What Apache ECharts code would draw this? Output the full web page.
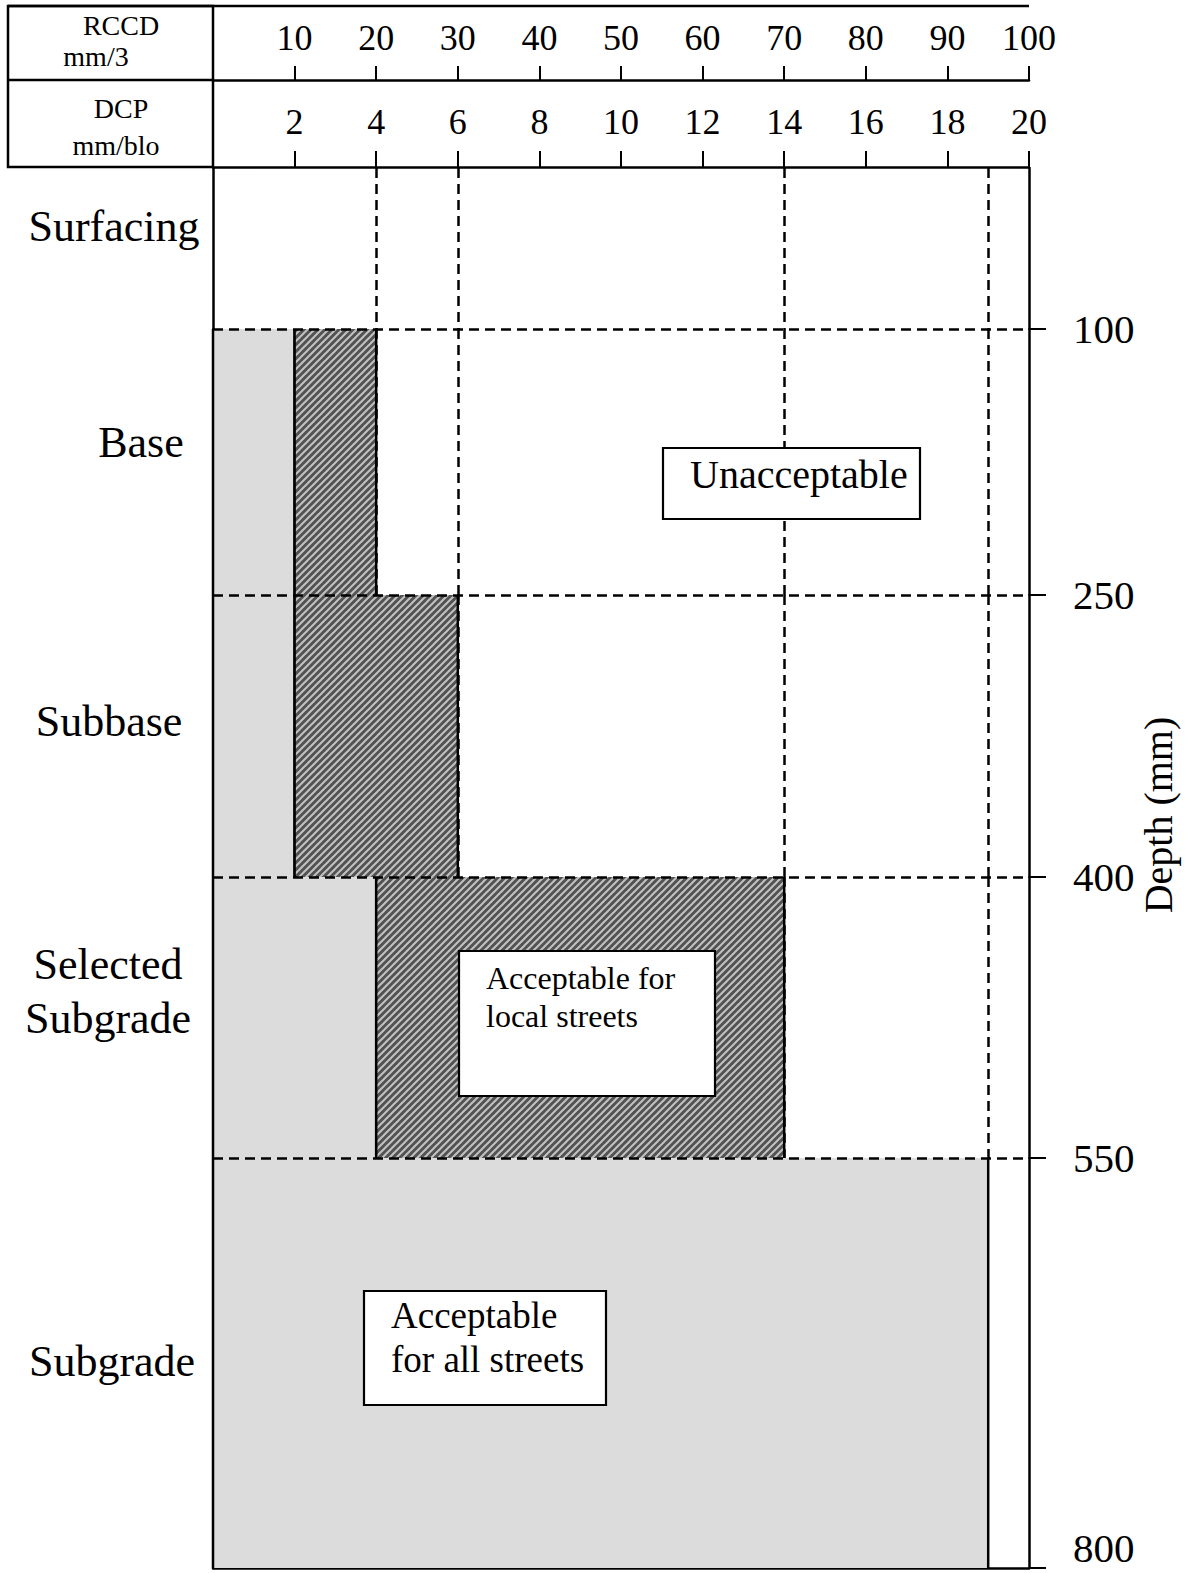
<!DOCTYPE html>
<html>
<head>
<meta charset="utf-8">
<script src="https://cdn.jsdelivr.net/npm/echarts@6/dist/echarts.min.js"></script>
<style>
html, body { margin: 0; padding: 0; background: #fff; }
#chart { width: 1187px; height: 1573px; }
</style>
</head>
<body>
<div id="chart"></div>
<script>
// pavement layers, depth (mm)
const layerNames = ['Surfacing', 'Base', 'Subbase', 'Selected\nSubgrade', 'Subgrade']
const layerTop = [0, 100, 250, 400, 550]
const layerBottom = [100, 250, 400, 550, 800]
// DCP limits (mm/blow) per layer
const allStreetsMax = [null, 2, 2, 4, 19]
const localStreetsMax = [null, 4, 6, 14, null]
// dashed guide columns (DCP)
const guideDcp = [4, 6, 14, 19]
// header scales
const rccdMax = 100
const rccdStep = 10
const dcpMax = 20
const dcpStep = 2

const FONT = "'Liberation Serif', 'DejaVu Serif', serif"
const BLACK = '#000'
// pixel rows of the layer boundaries (layout only)
const layerPx = [168, 329, 595, 877, 1158, 1568]
const plotLeft = 213
const plotWidth = 816

// hatch tile for the "local streets" zone
const T = 7
const tile = document.createElement('canvas')
tile.width = T
tile.height = T
const ctx = tile.getContext('2d')
ctx.fillStyle = '#525252'
ctx.fillRect(0, 0, T, T)
ctx.strokeStyle = '#c2c2c2'
ctx.lineWidth = 2
;[[-1, 1, 1, -1], [0, T, T, 0], [T - 1, T + 1, T + 1, T - 1]].forEach(function (s) {
  ctx.beginPath()
  ctx.moveTo(s[0], s[1])
  ctx.lineTo(s[2], s[3])
  ctx.stroke()
})
const hatchPattern = { image: tile, repeat: 'repeat' }

function renderRegion (params, api) {
  const a = api.coord([api.value(0), api.value(2)])
  const b = api.coord([api.value(1), api.value(3)])
  const edge = { stroke: BLACK, lineWidth: 2.5 }
  return {
    type: 'group',
    children: [
      {
        type: 'rect',
        shape: { x: a[0], y: a[1], width: b[0] - a[0], height: b[1] - a[1] },
        style: { fill: api.value(4) === 1 ? hatchPattern : '#dcdcdc' }
      },
      { type: 'line', shape: { x1: a[0], y1: a[1], x2: a[0], y2: b[1] }, style: edge },
      { type: 'line', shape: { x1: b[0], y1: a[1], x2: b[0], y2: b[1] }, style: edge }
    ]
  }
}

const grids = []
const xAxes = []
const yAxes = []
const series = []
const axisLine = { show: true, onZero: false, lineStyle: { color: BLACK, width: 2.5 } }

layerNames.forEach(function (name, i) {
  grids.push({
    left: plotLeft,
    width: plotWidth,
    top: layerPx[i],
    height: layerPx[i + 1] - layerPx[i],
    outerBoundsMode: 'none'
  })
  xAxes.push({
    gridIndex: i,
    type: 'value',
    min: 0,
    max: dcpMax,
    show: i === layerNames.length - 1,
    axisLine: axisLine,
    axisTick: { show: false },
    axisLabel: { show: false },
    splitLine: { show: false }
  })
})

// header grids: RCCD row and DCP row
grids.push({ left: plotLeft, width: plotWidth, top: 6, height: 74, outerBoundsMode: 'none' })
grids.push({ left: plotLeft, width: plotWidth, top: 80, height: 87, outerBoundsMode: 'none' })
xAxes.push({
  gridIndex: 5,
  type: 'value',
  min: 0,
  max: rccdMax,
  interval: rccdStep,
  position: 'bottom',
  axisLine: axisLine,
  axisTick: { show: true, inside: true, length: 14, lineStyle: { color: BLACK, width: 2 } },
  axisLabel: { inside: true, margin: 24, showMinLabel: false, color: BLACK, fontSize: 36, fontFamily: FONT },
  splitLine: { show: false }
})
xAxes.push({
  gridIndex: 6,
  type: 'value',
  min: 0,
  max: dcpMax,
  interval: dcpStep,
  position: 'bottom',
  axisLine: axisLine,
  axisTick: { show: true, inside: true, length: 16, lineStyle: { color: BLACK, width: 2 } },
  axisLabel: { inside: true, margin: 27, showMinLabel: false, color: BLACK, fontSize: 36, fontFamily: FONT },
  splitLine: { show: false }
})

// depth axes on the right, one per layer
layerNames.forEach(function (name, i) {
  yAxes.push({
    gridIndex: i,
    type: 'value',
    inverse: true,
    position: 'right',
    min: layerTop[i],
    max: layerBottom[i],
    axisLine: axisLine,
    axisTick: { show: true, length: 17, customValues: [layerBottom[i]], lineStyle: { color: BLACK, width: 2 } },
    axisLabel: {
      customValues: [layerBottom[i]],
      margin: 44,
      color: BLACK,
      fontSize: 41,
      fontFamily: FONT,
      verticalAlign: i === layerNames.length - 1 ? 'bottom' : 'middle'
    },
    splitLine: { show: false }
  })
})
// left frame line
layerNames.forEach(function (name, i) {
  yAxes.push({
    gridIndex: i,
    type: 'value',
    inverse: true,
    position: 'left',
    min: layerTop[i],
    max: layerBottom[i],
    axisLine: axisLine,
    axisTick: { show: false },
    axisLabel: { show: false },
    splitLine: { show: false }
  })
})
yAxes.push({ gridIndex: 5, type: 'value', show: false })
yAxes.push({ gridIndex: 6, type: 'value', show: false })

const dashed = { color: BLACK, type: [10, 6], width: 2.5 }

layerNames.forEach(function (name, i) {
  // vertical guides, under the zones
  if (i < 4) {
    series.push({
      type: 'line',
      xAxisIndex: i,
      yAxisIndex: i,
      data: [],
      z: 1,
      markLine: {
        z: 1,
        silent: true,
        symbol: ['none', 'none'],
        label: { show: false },
        lineStyle: dashed,
        data: guideDcp.map(function (v) { return { xAxis: v } })
      }
    })
  }
  // acceptance zones
  const zones = []
  if (allStreetsMax[i] !== null) zones.push([0, allStreetsMax[i], layerTop[i], layerBottom[i], 0])
  if (localStreetsMax[i] !== null) zones.push([allStreetsMax[i], localStreetsMax[i], layerTop[i], layerBottom[i], 1])
  if (zones.length) {
    series.push({
      type: 'custom',
      xAxisIndex: i,
      yAxisIndex: i,
      z: 2,
      silent: true,
      renderItem: renderRegion,
      data: zones
    })
  }
  // layer boundary, over the zones
  if (i > 0) {
    series.push({
      type: 'line',
      xAxisIndex: i,
      yAxisIndex: i,
      data: [],
      z: 3,
      markLine: {
        z: 3,
        silent: true,
        symbol: ['none', 'none'],
        label: { show: false },
        lineStyle: dashed,
        data: [{ yAxis: layerTop[i] }]
      }
    })
  }
})

// layer names on the left
const namePos = [[114, 226], [141, 442], [109, 721], [108, 991], [112, 1361]]
const graphics = layerNames.map(function (name, i) {
  return {
    type: 'text',
    x: namePos[i][0],
    y: namePos[i][1],
    style: { text: name, fill: BLACK, fontSize: 44, lineHeight: 54, fontFamily: FONT, align: 'center', verticalAlign: 'middle' }
  }
})

function textAt (text, x, y, size, align) {
  return {
    type: 'text',
    x: x,
    y: y,
    style: { text: text, fill: BLACK, fontSize: size, fontFamily: FONT, align: align || 'center', verticalAlign: 'middle' }
  }
}
function box (x, y, w, h) {
  return {
    type: 'rect',
    z: 10,
    shape: { x: x, y: y, width: w, height: h },
    style: { fill: '#fff', stroke: BLACK, lineWidth: 2.2 }
  }
}

graphics.push(
  // header table frame
  { type: 'line', shape: { x1: 8, y1: 6, x2: 1029, y2: 6 }, style: { stroke: BLACK, lineWidth: 2.5 } },
  { type: 'line', shape: { x1: 8, y1: 80, x2: 213, y2: 80 }, style: { stroke: BLACK, lineWidth: 2.5 } },
  { type: 'rect', shape: { x: 8, y: 6, width: 205, height: 161 }, style: { fill: 'none', stroke: BLACK, lineWidth: 2.5 } },
  textAt('RCCD', 121, 25, 28),
  textAt('mm/3', 96, 56, 28),
  textAt('DCP', 121, 108, 28),
  textAt('mm/blo', 116, 145, 28),
  // zone boxes
  box(663, 448, 257, 71),
  Object.assign(textAt('Unacceptable', 690, 474, 40, 'left'), { z: 11 }),
  box(459, 951, 256, 145),
  {
    type: 'text', x: 486, y: 997, z: 11,
    style: { text: 'Acceptable for\nlocal streets', fill: BLACK, fontSize: 32, lineHeight: 38, fontFamily: FONT, align: 'left', verticalAlign: 'middle' }
  },
  box(364, 1291, 242, 114),
  {
    type: 'text', x: 391, y: 1337, z: 11,
    style: { text: 'Acceptable\nfor all streets', fill: BLACK, fontSize: 37, lineHeight: 44, fontFamily: FONT, align: 'left', verticalAlign: 'middle' }
  },
  // depth axis name
  {
    type: 'text',
    x: 1158,
    y: 815,
    rotation: Math.PI / 2,
    style: { text: 'Depth (mm)', fill: BLACK, fontSize: 40, fontFamily: FONT, align: 'center', verticalAlign: 'middle' }
  }
)

const chart = echarts.init(document.getElementById('chart'), null, { renderer: 'svg' })
chart.setOption({
  animation: false,
  backgroundColor: '#fff',
  grid: grids,
  xAxis: xAxes,
  yAxis: yAxes,
  series: series,
  graphic: graphics
})
</script>
</body>
</html>
